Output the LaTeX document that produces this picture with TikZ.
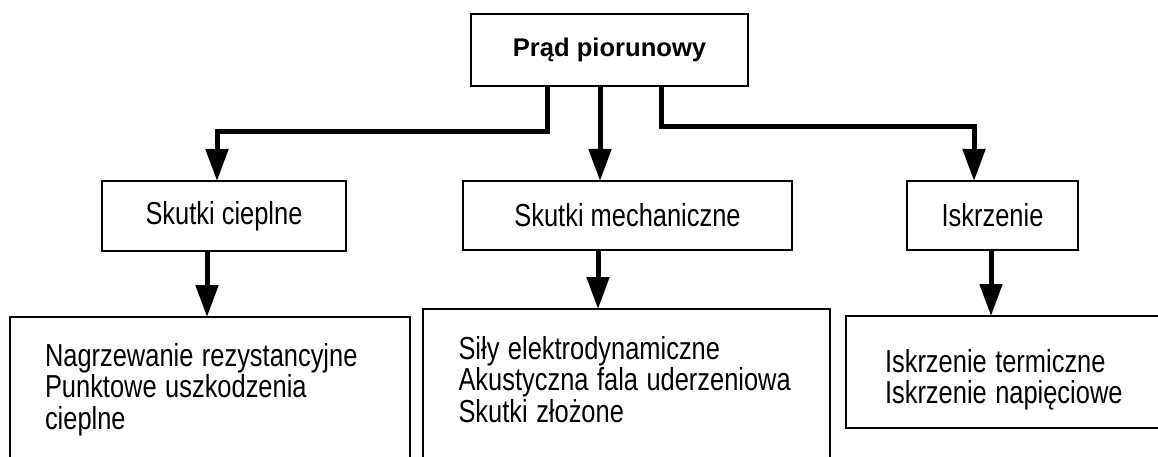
\documentclass[tikz,border=0pt]{standalone}
\usepackage{graphicx}
\usepackage{fontspec}
\setmainfont{Liberation Sans}
\newcommand\boxfont{\fontsize{31.8}{31.5}\selectfont}
\newcommand\cond[1]{\scalebox{0.8}[1]{#1}}
\usetikzlibrary{arrows.meta}
\begin{document}
\begin{tikzpicture}[x=1pt,y=-1pt,
  box/.style={draw=black,line width=2pt,outer sep=0pt,font=\boxfont},
  list/.style={box,anchor=north west,align=left,inner ysep=0pt},
  conn/.style={draw=black,line width=5pt,-{Triangle[length=32pt,width=22pt]}}]
  \useasboundingbox (0,0) rectangle (1158,457);
  \clip (0,0) rectangle (1158,457);
  \node[box,minimum width=277pt,minimum height=72pt,font=\fontsize{25.6}{31.5}\selectfont\bfseries] (prad) at (609.5,50) {Prąd piorunowy};
  \node[box,minimum width=244pt,minimum height=70pt] (ciep) at (224,216) {\cond{Skutki cieplne}};
  \node[box,minimum width=329pt,minimum height=69pt] (mech) at (627.5,215.5) {\cond{Skutki mechaniczne}};
  \node[box,minimum width=171pt,minimum height=69pt] (iskr) at (992.5,215.5) {\cond{Iskrzenie}};
  \node[list,text width=330pt,inner xsep=35pt,text height=49pt,text depth=200pt] (ciepX) at (10,317)
    {\cond{Nagrzewanie rezystancyjne}\\\cond{Punktowe uszkodzenia}\\\cond{cieplne}};
  \node[list,text width=336pt,inner xsep=35.5pt,text height=50pt,text depth=200pt] (mechX) at (423,309)
    {\cond{Siły elektrodynamiczne}\\\cond{Akustyczna fala uderzeniowa}\\\cond{Skutki złożone}};
  \node[list,text width=260pt,inner xsep=39pt,text height=56pt,text depth=56pt] (iskrX) at (846,316)
    {\cond{Iskrzenie termiczne}\\\cond{Iskrzenie napięciowe}};
  \draw[conn] ([xshift=-62.5pt]prad.south) -- ++(0,46) -| ([xshift=-7pt]ciep.north);
  \draw[conn] ([xshift=-9.5pt]prad.south) -- ([xshift=-9.5pt]prad.south |- mech.north);
  \draw[conn] ([xshift=51.5pt]prad.south) -- ++(0,41) -| ([xshift=-18.5pt]iskr.north);
  \draw[conn] ([xshift=-17pt]ciep.south) -- ([xshift=-17pt]ciep.south |- ciepX.north);
  \draw[conn] ([xshift=-29.5pt]mech.south) -- ([xshift=-29.5pt]mech.south |- mechX.north);
  \draw[conn] ([xshift=-1.5pt]iskr.south) -- ([xshift=-1.5pt]iskr.south |- iskrX.north);
\end{tikzpicture}
\end{document}
